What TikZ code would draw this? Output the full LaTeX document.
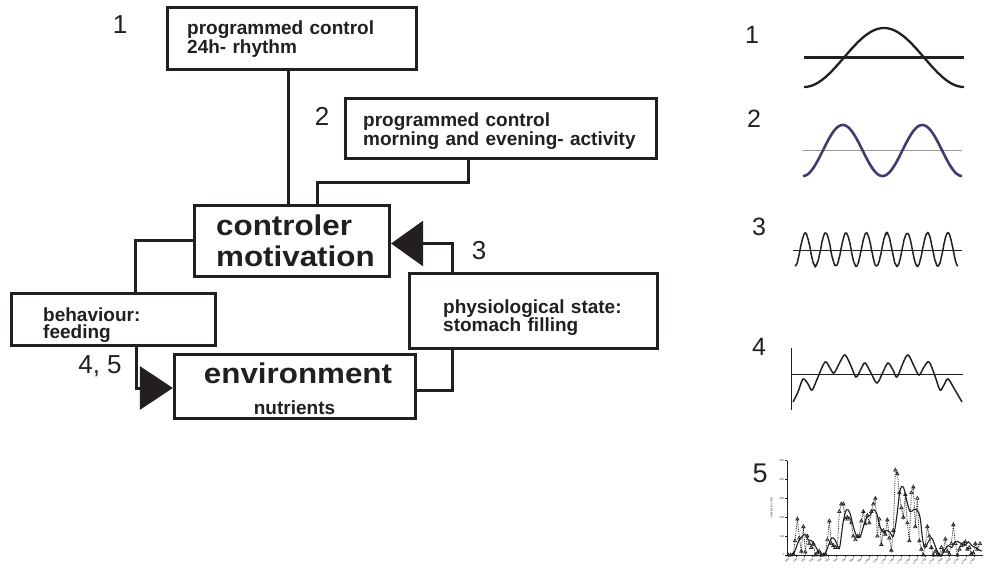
\documentclass[tikz,border=0pt]{standalone}
\usepackage{fontspec}
\setmainfont{Liberation Sans}
\newfontfamily\bigfont{Liberation Sans}[FakeStretch=1.1]
\usetikzlibrary{arrows.meta,plotmarks}
\definecolor{ink}{RGB}{35,31,32}
\definecolor{navy}{RGB}{62,60,112}
\begin{document}
\begin{tikzpicture}[x=1pt,y=-1pt,line join=miter,
  box/.style={draw=ink,line width=3pt,inner sep=0pt},
  bigbox/.style={draw=ink,line width=3.2pt,inner sep=0pt},
  small/.style={font=\fontsize{19}{17}\selectfont\bfseries,align=left,inner sep=0pt,anchor=base west,text=ink},
  big/.style={font=\bigfont\fontsize{28.5}{31}\selectfont\bfseries,text width=162pt,align=left,inner sep=0pt,anchor=base west,text=ink},
  num/.style={font=\fontsize{26}{26}\selectfont,inner sep=0pt,text=ink},
  rnum/.style={font=\fontsize{25}{25}\selectfont,inner sep=0pt,text=ink},
  conn/.style={draw=ink,line width=3pt},
  tiny/.style={font=\fontsize{2.6}{3}\selectfont,inner sep=0.4pt,text=ink}]
\useasboundingbox (0,0) rectangle (987,569);

% ---------- boxes ----------
\node[box,minimum width=249pt,minimum height=62pt] (b1) at (292,38.5) {};
\node[box,minimum width=311pt,minimum height=60pt] (b2) at (501,128.5) {};
\node[bigbox,minimum width=195pt,minimum height=71pt] (ctrl) at (292,241) {};
\node[box,minimum width=248pt,minimum height=75pt] (phys) at (533.5,311) {};
\node[box,minimum width=204pt,minimum height=52pt] (beh) at (113.5,319.5) {};
\node[bigbox,minimum width=241pt,minimum height=64pt] (env) at (295,386.5) {};

% ---------- texts ----------
\node[small,text width=200pt] (t1) at (187,35) {programmed control\\24h- rhythm};
\node[small,text width=285pt] (t2) at (363,127) {programmed control\\morning and evening- activity};
\node[big] (tc) at (216,235.5) {controler\\motivation};
\node[small,text width=190pt] (tp) at (443,313) {physiological state:\\stomach filling};
\node[small,text width=105pt] (tb) at (43,321) {behaviour:\\feeding};
\node[font=\bigfont\fontsize{28.5}{31}\selectfont\bfseries,inner sep=0pt,anchor=base,text=ink] (te) at (298,383) {environment};
\node[font=\fontsize{19}{17}\selectfont\bfseries,inner sep=0pt,anchor=base,text=ink] (tn) at (294.5,414) {nutrients};

% ---------- numbers ----------
\node[num] (n1) at (120,25) {1};
\node[num] (n2) at (322,116) {2};
\node[num] (n3) at (479,251) {3};
\node[num] (n45) at (100,366) {4, 5};

% ---------- connectors ----------
\draw[conn] ([xshift=-4pt]b1.south) -- ([xshift=-4pt]b1.south |- ctrl.north);
\draw[conn] ([xshift=-33pt]b2.south) -- ++(0,23) -| ([xshift=25pt]ctrl.north);
\draw[conn,-{Triangle[length=32pt,width=45pt]}] ([xshift=-81.5pt]phys.north) |- ([yshift=-2.5pt]ctrl.east);
\draw[conn] ([xshift=-81.5pt]phys.south) |- ([yshift=-3.5pt]env.east);
\draw[conn] (ctrl.west) -| ([xshift=21.5pt]beh.north);
\draw[conn,-{Triangle[length=33pt,width=43pt]}] ([xshift=22.5pt]beh.south) |- ([yshift=-1.5pt]env.west);

% ---------- right side graphs ----------
\node[rnum] (r1) at (752,35) {1};
\node[rnum] (r2) at (754,119) {2};
\node[rnum] (r3) at (759,227) {3};
\node[rnum] (r4) at (759,347) {4};
\node[font=\fontsize{27}{27}\selectfont,inner sep=0pt,text=ink] (r5) at (760,473) {5};

% graph 1
\draw[ink,line width=2.3pt] (804,57.5) -- (964,57.5);
\draw[ink,line width=2.3pt] plot[domain=0:160,samples=90] ({804+\x},{57.5+29.5*cos(2.25*\x)});
% graph 2
\draw[gray!80,line width=1pt] (803,151) -- (962,151);
\draw[navy,line width=2.6pt] plot[domain=0:159,samples=120] ({803+\x},{150.5+25.5*cos(4.5283*\x)});
% graph 3
\pgfmathsetseed{7}
\draw[ink,line width=1pt] (793,251) -- (962,251);
\draw[ink,line width=1.5pt] plot[domain=0:163,samples=260] ({795+\x},{249.5+16.5*cos(17.647*\x)+0.6*rand});
% graph 4
\draw[ink,line width=1pt] (791,348) -- (791,410);
\draw[ink,line width=1pt] (791,374) -- (963,374);
\draw[ink,line width=1.5pt] plot[smooth,tension=0.55] coordinates {(793,402) (798,392) (803,379) (808,384) (812,390) (818,377) (825,362) (830,368) (834,373) (840,362) (845,355) (851,366) (856,377) (861,369) (865,363) (871,373) (877,383) (883,372) (888,363) (893,370) (897,377) (903,363) (908,355) (914,366) (919,375) (924,367) (929,362) (935,376) (940,390) (944,385) (948,379) (955,390) (962,402)};

% graph 5
\begin{scope}[shift={(740pt,-555pt)},x=0.33333pt,y=0.18867pt]
  \draw[ink,line width=0.8pt] (141,500) -- (141,0) -- (730,0);
  \foreach \v in {0,100,200,300,400,500} {
    \draw[ink,line width=0.5pt] (135,\v) -- (141,\v);
    \node[tiny,anchor=east] at (134,\v) {\v};
  }
  \foreach \h in {0,...,23} {
    \pgfmathsetmacro{\hx}{145+\h*24.2}
    \draw[ink,line width=0.5pt] (\hx,0) -- (\hx,-10);
    \node[tiny,anchor=north east,rotate=45] at (\hx,-12) {\h:00};
  }
  \node[tiny,rotate=90] (ylab) at (95,250) {Aktivität [n/1 Std]};
  \draw[ink,line width=0.8pt,densely dotted,mark=triangle,mark size=1.9pt,mark options={solid,line width=0.7pt}] plot coordinates {
   (145,0) (152,0) (160,5) (165,75) (172,190) (178,90) (184,20) (190,150) (196,15) (202,100) (208,60) (214,40) (220,60) (226,0) (232,10) (238,20) (244,0) (250,0) (256,5) (262,80) (268,180) (274,60) (280,50) (286,40) (292,40) (298,230) (304,270) (310,270) (316,190) (322,200) (328,190) (334,170) (340,100) (346,80) (352,100) (358,100) (364,180) (370,230) (376,165) (382,210) (388,170) (394,230) (400,270) (406,300) (412,100) (418,190) (424,55) (430,130) (436,110) (442,185) (448,90) (454,25) (460,130) (466,450) (472,430) (478,330) (484,250) (490,200) (496,320) (502,170) (508,75) (514,330) (520,360) (526,150) (532,300) (538,75) (544,30) (550,0) (556,50) (562,150) (568,100) (574,40) (580,0) (586,20) (592,0) (598,0) (604,40) (610,20) (616,85) (622,20) (628,5) (634,60) (640,160) (646,60) (652,0) (658,30) (664,50) (670,60) (676,70) (682,30) (688,40) (694,5) (700,10) (706,60) (712,30) (720,60)};
  \draw[ink,line width=1.1pt] plot[smooth,tension=0.6] coordinates {
   (145,0) (160,5) (175,70) (185,95) (195,110) (205,80) (215,75) (225,50) (235,20) (245,5) (255,5) (265,50) (275,90) (285,80) (295,40) (300,50) (310,180) (320,240) (330,220) (340,150) (350,100) (360,95) (370,150) (380,200) (390,210) (400,240) (410,220) (420,150) (430,120) (440,130) (450,120) (460,100) (470,200) (480,340) (490,360) (500,290) (510,230) (520,240) (530,240) (540,200) (548,80) (555,40) (565,70) (575,90) (585,50) (595,10) (605,0) (615,30) (625,50) (635,40) (645,70) (655,70) (665,60) (675,50) (685,70) (695,50) (705,40) (715,30) (725,20)};
\end{scope}
\end{tikzpicture}
\end{document}
